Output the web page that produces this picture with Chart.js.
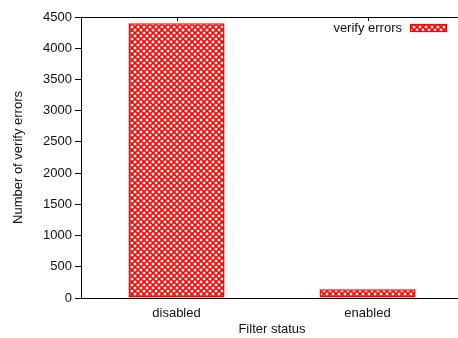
<!DOCTYPE html>
<html lang="en">
<head>
  <meta charset="UTF-8">
  <title>Verify errors by filter status</title>
  <script src="https://cdn.jsdelivr.net/npm/chart.js"></script>
  <style>
    * {
      box-sizing: border-box;
      margin: 0;
      padding: 0;
    }
    html, body {
      width: 458px;
      height: 338px;
      overflow: hidden;
      background: #fff;
    }
    #wrap {
      width: 463px;
      height: 338px;
    }
  </style>
</head>
<body>
  <div id="wrap">
    <canvas id="errChart" width="463" height="338"></canvas>
  </div>

  <script>
    // Data
    const categories = ['disabled', 'enabled'];
    const verifyErrors = [4400, 140];
    const seriesLabel = 'verify errors';
    const yMax = 4500;
    const yStep = 500;

    const RED = '#ff0000';
    const FONT = "'Liberation Sans', Arial, sans-serif";

    // Small crosshatch tile, like gnuplot's pattern fill
    function makeHatch() {
      const c = document.createElement('canvas');
      c.width = 6;
      c.height = 6;
      const g = c.getContext('2d');
      g.fillStyle = '#fff';
      g.fillRect(0, 0, 6, 6);
      g.strokeStyle = RED;
      g.lineWidth = 1.6;
      g.beginPath();
      g.moveTo(-1, -1); g.lineTo(7, 7);
      g.moveTo(-1, 7); g.lineTo(7, -1);
      g.stroke();
      return g.createPattern(c, 'repeat');
    }
    const hatch = makeHatch();

    // Top border with small inward ticks, plus the legend in the top right
    const framePlugin = {
      id: 'frame',
      afterDraw(chart) {
        const ctx = chart.ctx;
        const area = chart.chartArea;
        const xs = chart.scales.x;
        ctx.save();
        ctx.strokeStyle = '#000';
        ctx.lineWidth = 1;
        ctx.beginPath();
        ctx.moveTo(area.left, area.top + 0.5);
        ctx.lineTo(chart.width, area.top + 0.5);
        categories.forEach((c, i) => {
          const px = Math.round(xs.getPixelForValue(i)) + 0.5;
          ctx.moveTo(px, area.top);
          ctx.lineTo(px, area.top + 4);
        });
        ctx.stroke();

        // legend: text then sample box
        ctx.font = '13px ' + FONT;
        ctx.fillStyle = '#111';
        ctx.textAlign = 'right';
        ctx.textBaseline = 'middle';
        ctx.fillText(seriesLabel, 402, 28);
        ctx.fillStyle = hatch;
        ctx.fillRect(410, 24, 37, 8);
        ctx.strokeStyle = RED;
        ctx.lineWidth = 1.2;
        ctx.strokeRect(410.5, 24.5, 36, 7);
        ctx.restore();
      }
    };

    new Chart(document.getElementById('errChart'), {
      type: 'bar',
      data: {
        labels: categories,
        datasets: [{
          label: seriesLabel,
          data: verifyErrors,
          backgroundColor: hatch,
          borderColor: RED,
          borderWidth: 1.5,
          borderSkipped: false,
          categoryPercentage: 1.0,
          barPercentage: 0.503
        }]
      },
      options: {
        responsive: false,
        animation: false,
        layout: { padding: { top: 17, left: 0, right: 0, bottom: 0 } },
        plugins: {
          legend: { display: false },
          tooltip: { enabled: false }
        },
        scales: {
          x: {
            afterFit(scale) { scale.height = 40; },
            grid: { display: false, drawTicks: false },
            border: { display: true, color: '#000', width: 1 },
            ticks: {
              padding: 8,
              color: '#111',
              font: { family: FONT, size: 13 }
            },
            title: {
              display: true,
              text: 'Filter status',
              color: '#111',
              padding: { top: 0, bottom: 1 },
              font: { family: FONT, size: 13 }
            }
          },
          y: {
            min: 0,
            max: yMax,
            afterFit(scale) { scale.width = 81; },
            grid: {
              drawOnChartArea: false,
              drawTicks: true,
              tickLength: 6,
              color: '#000'
            },
            border: { display: true, color: '#000', width: 1 },
            ticks: {
              stepSize: yStep,
              padding: 3,
              color: '#111',
              font: { family: FONT, size: 13 },
              callback: (v) => String(v)
            },
            title: {
              display: true,
              text: 'Number of verify errors',
              color: '#111',
              padding: { top: 11, bottom: 0 },
              font: { family: FONT, size: 13 }
            }
          }
        }
      },
      plugins: [framePlugin]
    });
  </script>
</body>
</html>
